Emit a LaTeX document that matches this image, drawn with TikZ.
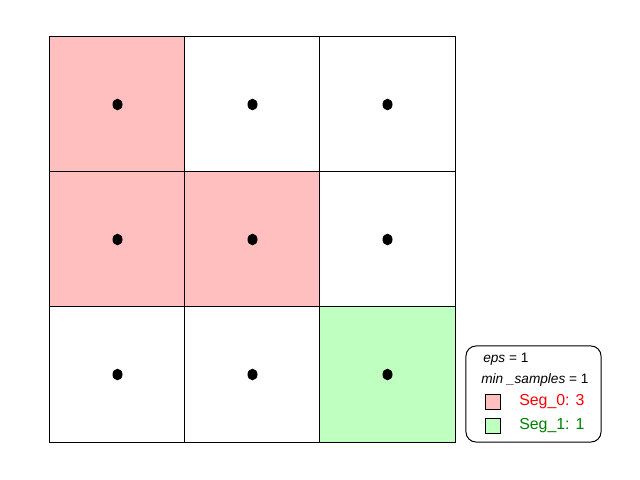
\documentclass[tikz,border=0pt]{standalone}
\usepackage{fontspec}
\setmainfont{Liberation Sans}
\definecolor{segred}{HTML}{FFBFBF}
\definecolor{seggreen}{HTML}{BFFFBF}
\definecolor{darkgreen}{HTML}{008000}
\begin{document}
\begin{tikzpicture}[x=0.025cm, y=-0.025cm,
  cell/.style={draw, line width=0.7pt, minimum size=3.375cm, inner sep=0pt, outer sep=0pt},
  keybox/.style={draw, line width=0.6pt, minimum size=0.375cm, inner sep=0pt},
  legendbox/.style={draw, line width=0.7pt, rounded corners=0.25cm, minimum width=3.375cm, minimum height=2.4cm, inner sep=0pt},
  txt/.style={anchor=west, inner sep=0pt, font=\fontsize{9.7}{12}\selectfont},
  segtxt/.style={anchor=west, inner sep=0pt, font=\fontsize{11.3}{13}\selectfont}]
\useasboundingbox (0,0) rectangle (640,480);
% grid of cells, row by row
\foreach \r/\c/\col in {0/0/segred, 0/1/white, 0/2/white,
                        1/0/segred, 1/1/segred, 1/2/white,
                        2/0/white,  2/1/white,  2/2/seggreen}{
  \node[cell, fill=\col] (c\r\c) at (117.5+135*\c, 104.5+135*\r) {};
  \fill (c\r\c.center) ellipse [x radius=5, y radius=5.8];
}
% legend
\node[legendbox] (legend) at (533.5,394) {};
\node[txt] (eps) at (483,359) {\textit{eps} = 1};
\node[txt] (minsamples) at (481,379.5) {\textit{min \_samples} = 1};
\node[keybox, fill=segred] (key0) at (493,401.5) {};
\node[keybox, fill=seggreen] (key1) at (493,425.5) {};
\node[segtxt, text=red] (seg0) at (519,401.5) {Seg\_0: 3};
\node[segtxt, text=darkgreen] (seg1) at (519,425.5) {Seg\_1: 1};
\end{tikzpicture}
\end{document}
